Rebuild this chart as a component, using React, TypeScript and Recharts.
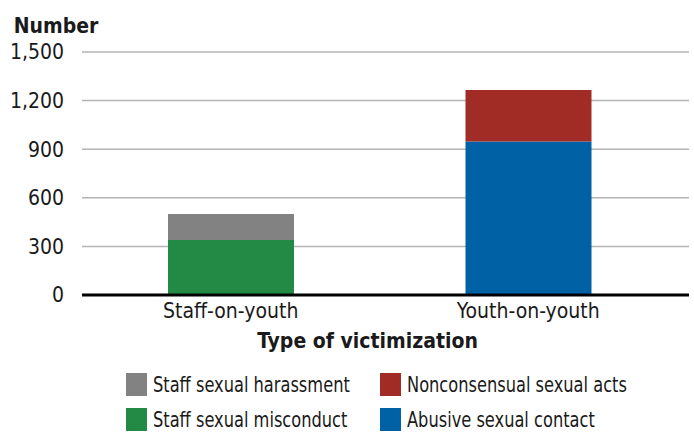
import { BarChart, Bar, XAxis, YAxis, CartesianGrid, Legend } from "recharts";

const categories = ["Staff-on-youth", "Youth-on-youth"];
const staffMisconduct = [340, 0];
const abusiveContact = [0, 948];
const staffHarassment = [160, 0];
const nonconsensualActs = [0, 317];
const yTicks = [0, 300, 600, 900, 1200, 1500];

const FONT = "'Liberation Sans Narrow', 'DejaVu Sans Condensed', 'Arial Narrow', sans-serif";
const INK = "#1a1a1a";
const FS = 21;

const series = [
  { key: "misconduct", name: "Staff sexual misconduct", color: "#238a45" },
  { key: "abusive", name: "Abusive sexual contact", color: "#0062a5" },
  { key: "harassment", name: "Staff sexual harassment", color: "#828282" },
  { key: "nonconsensual", name: "Nonconsensual sexual acts", color: "#a12b25" },
];

// legend is laid out 2x2, in this reading order
const legendOrder = [
  ["harassment", "nonconsensual"],
  ["misconduct", "abusive"],
];

const data = categories.map((name, i) => ({
  name,
  misconduct: staffMisconduct[i],
  abusive: abusiveContact[i],
  harassment: staffHarassment[i],
  nonconsensual: nonconsensualActs[i],
}));

function LegendGrid() {
  return (
    <div style={{ position: "relative", width: 694, height: 62, fontFamily: FONT }}>
      {legendOrder.map((row, r) =>
        row.map((key, c) => {
          const s = series.find((d) => d.key === key)!;
          return (
            <div
              key={key}
              style={{
                position: "absolute",
                left: c === 0 ? 126 : 380,
                top: 1 + r * 35,
                display: "flex",
                alignItems: "center",
                height: 23,
              }}
            >
              <span style={{ width: 21, height: 23, background: s.color, display: "inline-block", flex: "none" }} />
              <span
                style={{
                  marginLeft: 6,
                  fontSize: 22,
                  lineHeight: "23px",
                  color: INK,
                  whiteSpace: "nowrap",
                  display: "inline-block",
                  transform: "scaleX(0.82)",
                  transformOrigin: "left center",
                }}
              >
                {s.name}
              </span>
            </div>
          );
        })
      )}
    </div>
  );
}

export default function App() {
  return (
    <div style={{ position: "absolute", left: 0, top: 0, width: 694, height: 434, background: "#fff", fontFamily: FONT }}>
      <BarChart width={694} height={434} data={data} margin={{ top: 52, right: 5, bottom: 0, left: 0 }}>
        <CartesianGrid vertical={false} stroke="#b4b4b4" strokeWidth={1.5} />
        <XAxis
          dataKey="name"
          height={77}
          padding={{ left: 0, right: 12 }}
          axisLine={{ stroke: "#000", strokeWidth: 3 }}
          tickLine={false}
          tick={{ fill: INK, fontSize: FS }}
          label={{
            value: "Type of victimization",
            position: "insideTop",
            offset: 38,
            dx: -18,
            fill: INK,
            fontSize: FS,
            fontWeight: 700,
          }}
        />
        <YAxis
          width={82}
          domain={[0, 1500]}
          ticks={yTicks}
          axisLine={false}
          tickLine={false}
          tickMargin={12}
          tick={{ fill: INK, fontSize: FS }}
          tickFormatter={(v: number) => v.toLocaleString("en-US")}
          label={{
            value: "Number",
            position: "top",
            offset: 19,
            dx: 15,
            fill: INK,
            fontSize: FS,
            fontWeight: 700,
          }}
        />
        <Legend verticalAlign="bottom" height={62} wrapperStyle={{ left: 0, width: 694 }} content={() => <LegendGrid />} />
        {series.map((s) => (
          <Bar key={s.key} dataKey={s.key} name={s.name} stackId="a" fill={s.color} barSize={126} isAnimationActive={false} />
        ))}
      </BarChart>
    </div>
  );
}
